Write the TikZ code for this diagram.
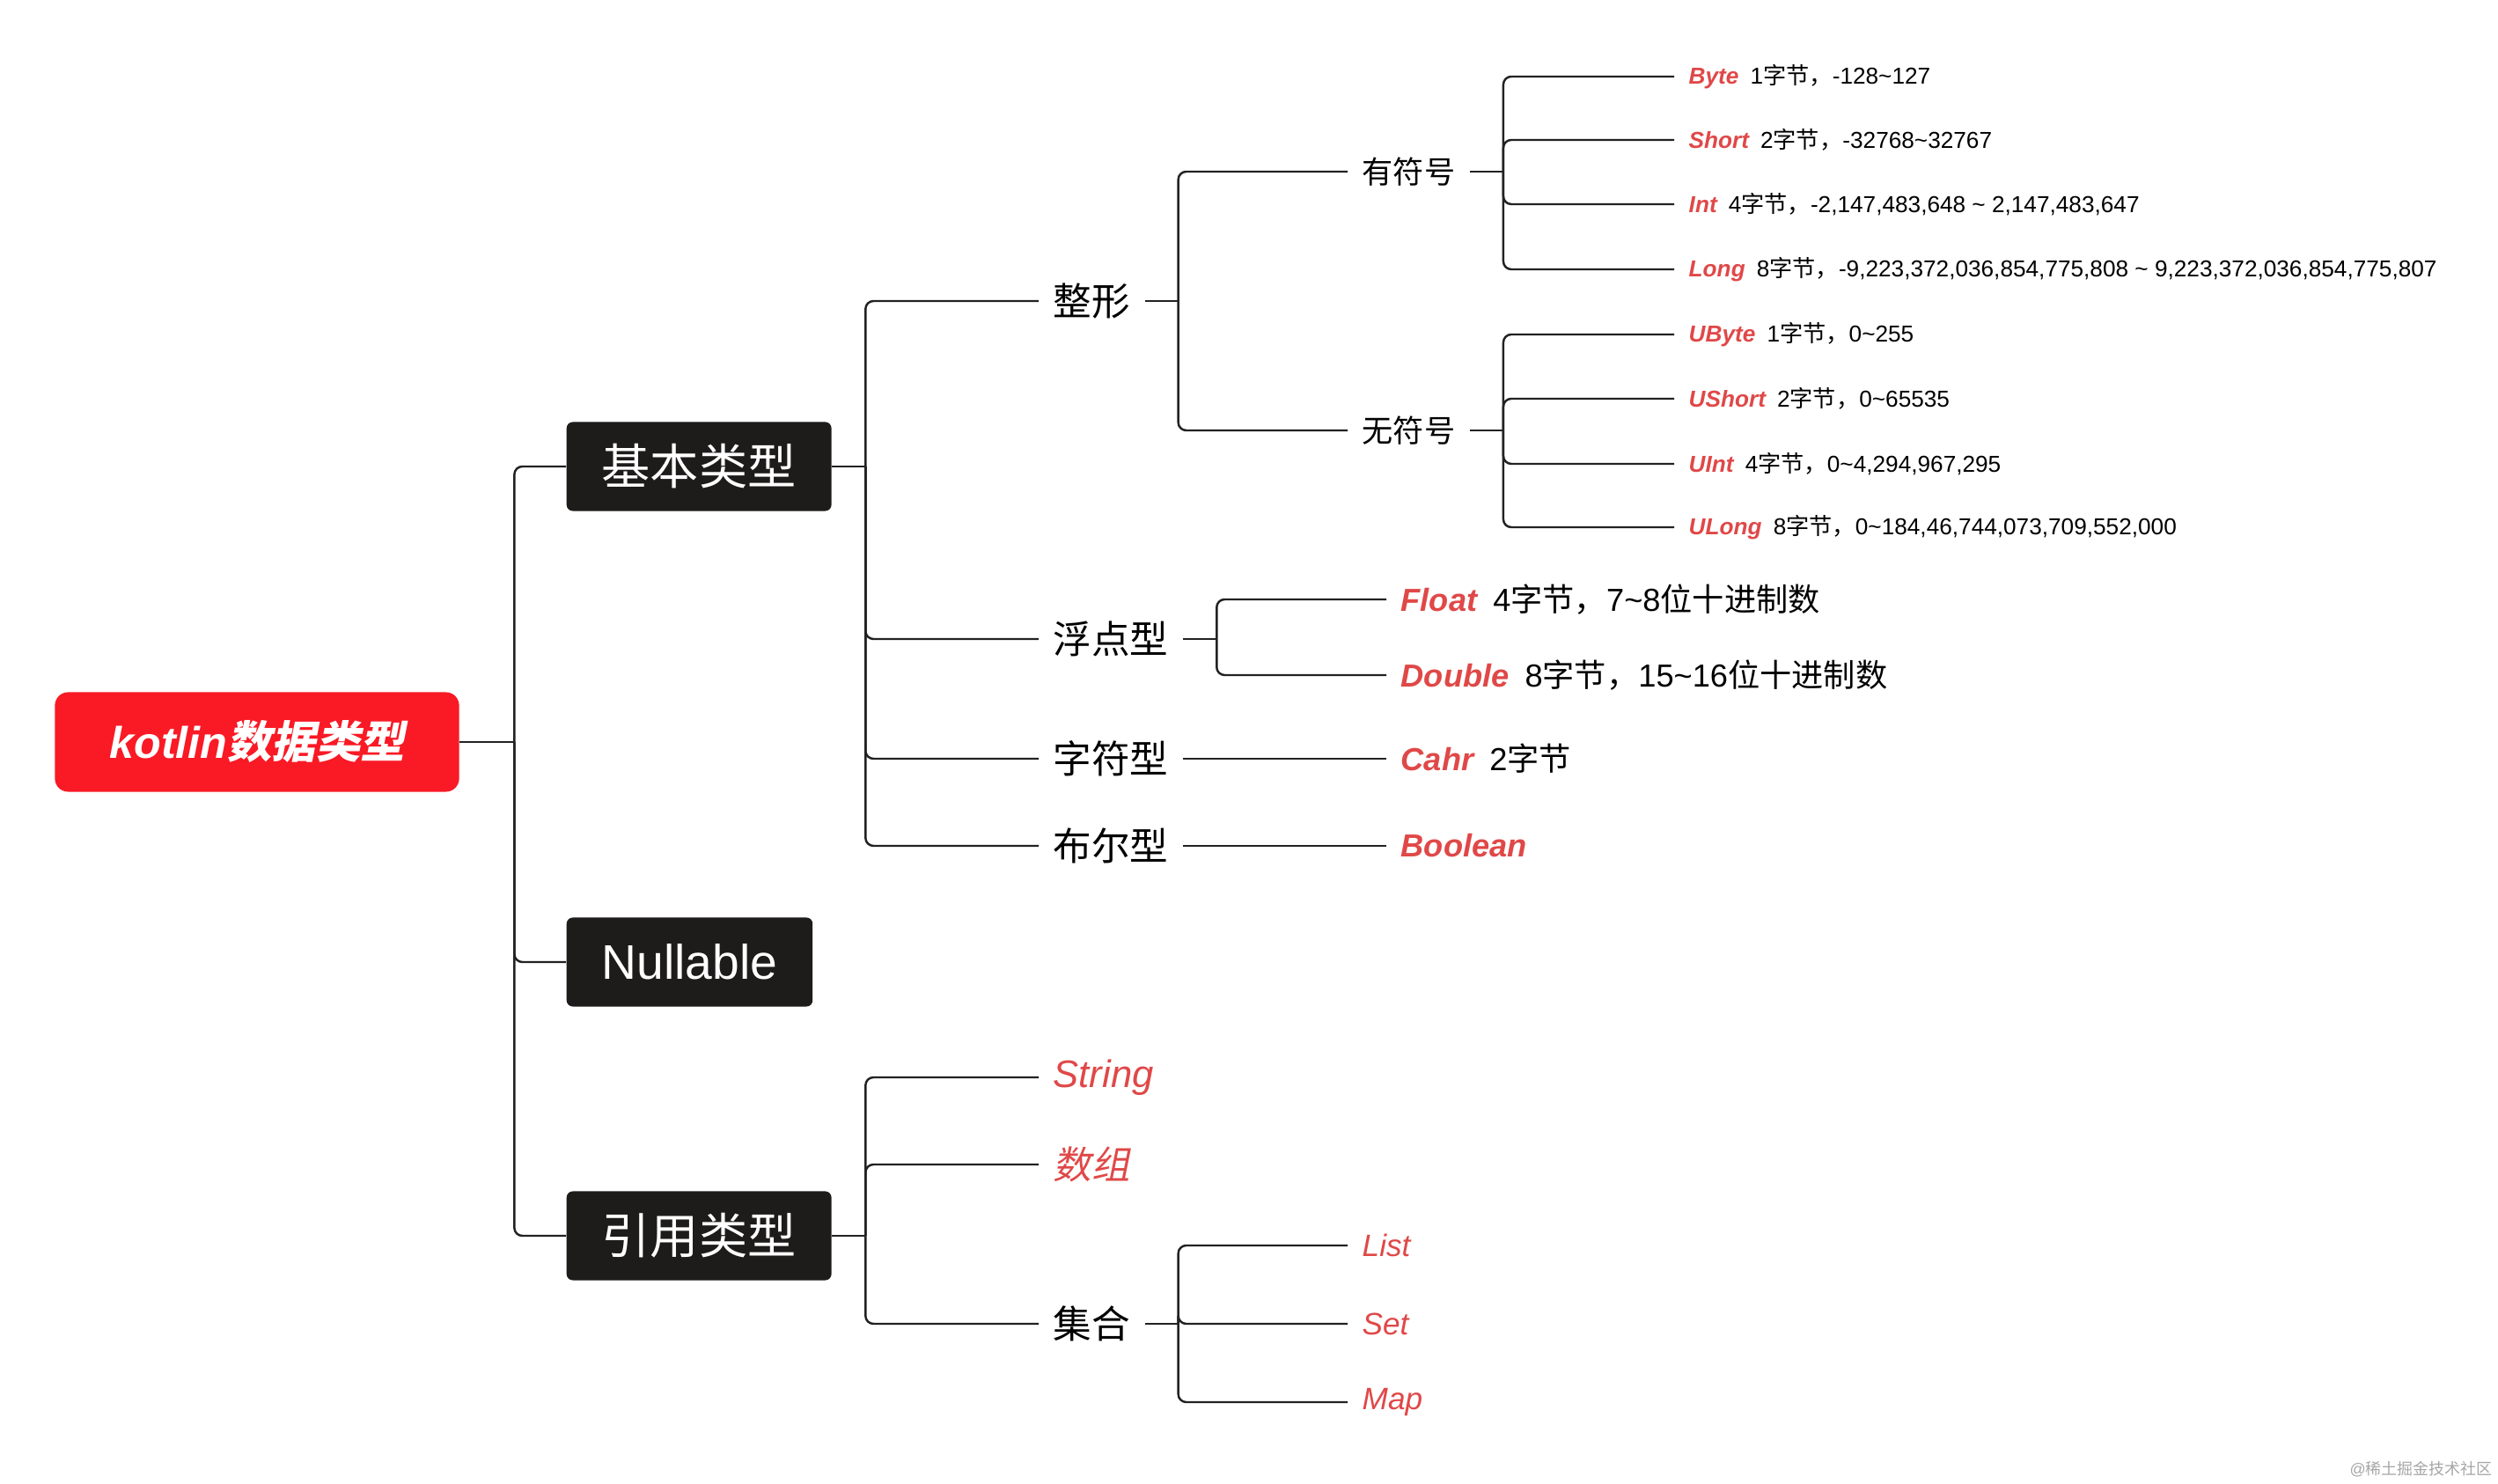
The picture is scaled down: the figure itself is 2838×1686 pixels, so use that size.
\documentclass[tikz,border=0pt]{standalone}
\usepackage{fontspec}
\setmainfont{Liberation Sans}
\newfontfamily\zhfont{Noto Sans CJK SC}
\newfontfamily\zhslant[FakeSlant=0.2]{Noto Sans CJK SC}
\newcommand\zh[1]{{\zhfont #1}}
\newcommand\zhi[1]{{\zhslant #1}}
\newcommand\til{\char"7E\relax}
\newcommand\gap{\hspace{0.5em}}
\definecolor{rootred}{HTML}{F91A25}
\definecolor{boxblack}{HTML}{1E1B1B}
\definecolor{typered}{HTML}{E04848}
\definecolor{linegray}{HTML}{222222}
\newcommand\tn[1]{\textcolor{typered}{\bfseries\itshape #1}}
\tikzset{
  link/.style={draw=linegray, line width=0.7pt},
  elbow/.style={link, rounded corners=0.09cm},
  rootbox/.style={fill=rootred, text=white, rounded corners=0.15cm,
    minimum width=4.59cm, minimum height=1.13cm,
    font=\fontsize{14.3}{16}\selectfont\bfseries\itshape},
  typebox/.style={anchor=west, fill=boxblack, text=white, rounded corners=0.07cm,
    inner xsep=0.4cm, minimum height=1.01cm, font=\fontsize{15.7}{18}\selectfont},
  lvltwo/.style={anchor=west, inner xsep=0.16cm, font=\fontsize{12.4}{14}\selectfont},
  lvlthree/.style={anchor=west, inner xsep=0.16cm, font=\fontsize{10}{12}\selectfont},
  leaf/.style={anchor=west, inner xsep=0.16cm, font=\fontsize{10.3}{12}\selectfont},
  smallleaf/.style={anchor=west, inner xsep=0.16cm, font=\fontsize{7.45}{9}\selectfont},
  redit/.style={text=typered, font=\itshape\fontsize{10}{12}\selectfont},
}
\begin{document}
\begin{tikzpicture}[x=0.01cm, y=-0.01cm]
  \useasboundingbox (0,0) rectangle (2838,1686);

  % root and first level
  \node[rootbox] (root) at (292,843) {kotlin\zhi{数据类型}};
  \node[typebox] (basic) at (643,530) {\zh{基本类型}};
  \node[typebox] (nullable) at (643,1093) {Nullable};
  \node[typebox] (ref) at (643,1404) {\zh{引用类型}};

  % basic types
  \node[lvltwo] (int) at (1180,342) {\zh{整形}};
  \node[lvltwo] (float) at (1180,726) {\zh{浮点型}};
  \node[lvltwo] (char) at (1180,862) {\zh{字符型}};
  \node[lvltwo] (bool) at (1180,961) {\zh{布尔型}};

  \node[lvlthree] (signed) at (1531,195) {\zh{有符号}};
  \node[lvlthree] (unsigned) at (1531,489) {\zh{无符号}};

  \node[smallleaf] (byte) at (1902,87) {\tn{Byte}\gap 1\zh{字节，}-128\til 127};
  \node[smallleaf] (short) at (1902,159) {\tn{Short}\gap 2\zh{字节，}-32768\til 32767};
  \node[smallleaf] (intv) at (1902,232) {\tn{Int}\gap 4\zh{字节，}-2,147,483,648 \til{} 2,147,483,647};
  \node[smallleaf] (long) at (1902,306) {\tn{Long}\gap 8\zh{字节，}-9,223,372,036,854,775,808 \til{} 9,223,372,036,854,775,807};

  \node[smallleaf] (ubyte) at (1902,380) {\tn{UByte}\gap 1\zh{字节，}0\til 255};
  \node[smallleaf] (ushort) at (1902,453) {\tn{UShort}\gap 2\zh{字节，}0\til 65535};
  \node[smallleaf] (uint) at (1902,527) {\tn{UInt}\gap 4\zh{字节，}0\til 4,294,967,295};
  \node[smallleaf] (ulong) at (1902,599) {\tn{ULong}\gap 8\zh{字节，}0\til 184,46,744,073,709,552,000};

  \node[leaf] (flt) at (1575,681) {\tn{Float}\gap 4\zh{字节，}7\til 8\zh{位十进制数}};
  \node[leaf] (dbl) at (1575,767) {\tn{Double}\gap 8\zh{字节，}15\til 16\zh{位十进制数}};
  \node[leaf] (cahr) at (1575,862) {\tn{Cahr}\gap 2\zh{字节}};
  \node[leaf] (boolean) at (1575,961) {\tn{Boolean}};

  % reference types
  \node[lvltwo, text=typered, font=\itshape\fontsize{12.4}{14}\selectfont] (str) at (1180,1224) {String};
  \node[lvltwo, text=typered] (arr) at (1180,1323) {\zhi{数组}};
  \node[lvltwo] (coll) at (1180,1504) {\zh{集合}};

  \node[lvlthree, redit] (list) at (1531,1415) {List};
  \node[lvlthree, redit] (set) at (1531,1504) {Set};
  \node[lvlthree, redit] (map) at (1531,1593) {Map};

  \node[anchor=east, inner sep=0pt, text=black!35, font=\fontsize{5.1}{6}\selectfont] (mark) at (2832,1669) {@\zh{稀土掘金技术社区}};

  % joints
  \coordinate (rootj) at ([xshift=0.62cm]root.east);
  \coordinate (basicj) at ([xshift=0.38cm]basic.east);
  \coordinate (refj) at ([xshift=0.38cm]ref.east);
  \coordinate (intj) at ([xshift=0.38cm]int.east);
  \coordinate (floatj) at ([xshift=0.38cm]float.east);
  \coordinate (signedj) at ([xshift=0.38cm]signed.east);
  \coordinate (unsignedj) at ([xshift=0.38cm]unsigned.east);
  \coordinate (collj) at ([xshift=0.38cm]coll.east);

  % connectors
  \draw[link] (root.east) -- (rootj);
  \foreach \c in {basic,nullable,ref} \draw[elbow] (rootj) |- (\c.west);
  \draw[link] (basic.east) -- (basicj);
  \foreach \c in {int,float,char,bool} \draw[elbow] (basicj) |- (\c.west);
  \draw[link] (int.east) -- (intj);
  \foreach \c in {signed,unsigned} \draw[elbow] (intj) |- (\c.west);
  \draw[link] (signed.east) -- (signedj);
  \foreach \c in {byte,short,intv,long} \draw[elbow] (signedj) |- (\c.west);
  \draw[link] (unsigned.east) -- (unsignedj);
  \foreach \c in {ubyte,ushort,uint,ulong} \draw[elbow] (unsignedj) |- (\c.west);
  \draw[link] (float.east) -- (floatj);
  \foreach \c in {flt,dbl} \draw[elbow] (floatj) |- (\c.west);
  \draw[link] (char.east) -- (cahr.west);
  \draw[link] (bool.east) -- (boolean.west);
  \draw[link] (ref.east) -- (refj);
  \foreach \c in {str,arr,coll} \draw[elbow] (refj) |- (\c.west);
  \draw[link] (coll.east) -- (collj);
  \foreach \c in {list,set,map} \draw[elbow] (collj) |- (\c.west);
\end{tikzpicture}
\end{document}
